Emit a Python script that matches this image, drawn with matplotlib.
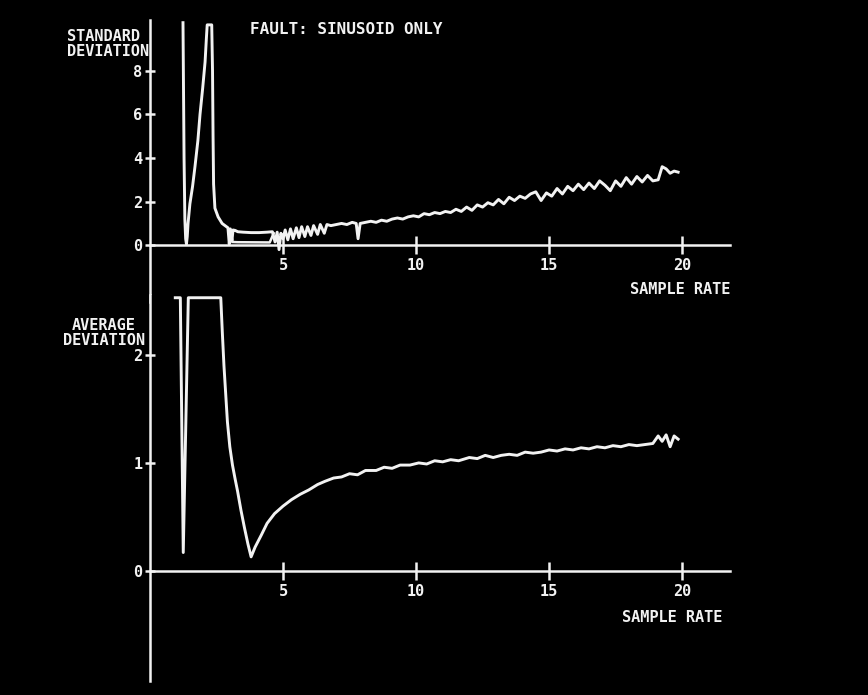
import matplotlib
matplotlib.use("Agg")
import matplotlib.pyplot as plt

# standard deviation trace (upper panel)
std_x = [1.24, 1.28, 1.31, 1.34, 1.37, 1.40, 1.43, 1.50, 1.60, 1.69, 1.80, 1.88, 1.98,
         2.07, 2.12, 2.15, 2.32, 2.35, 2.37, 2.39, 2.44, 2.56, 2.71, 2.93, 2.98, 3.02,
         3.08, 3.12, 3.20, 3.30, 3.50, 3.80, 4.10, 4.40, 4.60, 4.70, 4.78, 4.85, 4.92,
         5.00, 5.08, 5.18, 5.28, 5.38, 5.50, 5.60, 5.70, 5.82, 5.92, 6.05, 6.15, 6.30,
         6.40, 6.55, 6.65, 6.80, 7.00, 7.20, 7.40, 7.60, 7.75, 7.82, 7.90, 8.10, 8.30,
         8.50, 8.70, 8.90, 9.10, 9.30, 9.50, 9.70, 9.90, 10.1, 10.3, 10.5, 10.7, 10.9,
         11.1, 11.3, 11.5, 11.7, 11.9, 12.1, 12.3, 12.5, 12.7, 12.9, 13.1, 13.3, 13.5,
         13.7, 13.9, 14.1, 14.3, 14.5, 14.7, 14.9, 15.1, 15.3, 15.5, 15.7, 15.9, 16.1,
         16.3, 16.5, 16.7, 16.9, 17.1, 17.3, 17.5, 17.7, 17.9, 18.1, 18.3, 18.5, 18.7,
         18.9, 19.1, 19.25, 19.4, 19.55, 19.7, 19.85]
std_y = [10.2, 4.0, 1.2, 0.3, 0.05, 0.4, 1.0, 1.9, 2.7, 3.6, 4.8, 6.0, 7.2,
         8.4, 9.5, 10.1, 10.1, 8.0, 5.0, 2.8, 1.7, 1.3, 1.0, 0.8, 0.05, 0.75,
         0.2, 0.7, 0.68, 0.62, 0.60, 0.58, 0.58, 0.60, 0.62, 0.15, 0.60, -0.2, 0.55,
         0.30, 0.70, 0.25, 0.75, 0.30, 0.80, 0.35, 0.85, 0.40, 0.85, 0.45, 0.90, 0.50,
         0.95, 0.55, 0.95, 0.90, 0.95, 1.00, 0.95, 1.05, 1.00, 0.30, 1.00, 1.05, 1.10,
         1.05, 1.15, 1.10, 1.20, 1.25, 1.20, 1.30, 1.35, 1.30, 1.45, 1.40, 1.50, 1.45,
         1.55, 1.50, 1.65, 1.55, 1.75, 1.60, 1.85, 1.75, 1.95, 1.85, 2.10, 1.90, 2.20,
         2.05, 2.25, 2.15, 2.35, 2.45, 2.05, 2.40, 2.25, 2.60, 2.35, 2.70, 2.50, 2.80,
         2.55, 2.85, 2.60, 2.95, 2.75, 2.50, 2.95, 2.70, 3.10, 2.80, 3.15, 2.90, 3.20,
         2.95, 3.00, 3.60, 3.50, 3.30, 3.40, 3.35]

# lower retrace seen under the flat part of the upper trace
retrace_x = [3.10, 3.30, 4.50, 4.65]
retrace_y = [0.15, 0.14, 0.13, 0.55]

# average deviation trace (lower panel)
avg_x = [0.95, 1.14, 1.25, 1.44, 2.66, 2.72, 2.78, 2.85, 2.91, 3.00, 3.10, 3.20,
         3.29, 3.42, 3.55, 3.68, 3.80, 3.95, 4.18, 4.40, 4.68, 5.00, 5.32, 5.65,
         5.97, 6.30, 6.58, 6.90, 7.20, 7.50, 7.80, 8.10, 8.50, 8.80, 9.10, 9.40,
         9.77, 10.1, 10.4, 10.7, 11.0, 11.3, 11.6, 12.0, 12.3, 12.6, 12.9, 13.2,
         13.5, 13.8, 14.1, 14.4, 14.7, 15.0, 15.3, 15.6, 15.9, 16.2, 16.5, 16.8,
         17.1, 17.4, 17.7, 18.0, 18.3, 18.6, 18.9, 19.1, 19.25, 19.4, 19.55, 19.7,
         19.85]
avg_y = [2.53, 2.53, 0.17, 2.53, 2.53, 2.20, 1.90, 1.62, 1.38, 1.15, 0.98, 0.85,
         0.74, 0.56, 0.40, 0.25, 0.13, 0.22, 0.33, 0.44, 0.53, 0.60, 0.66, 0.71,
         0.75, 0.80, 0.83, 0.86, 0.87, 0.90, 0.89, 0.93, 0.93, 0.96, 0.95, 0.98,
         0.98, 1.00, 0.99, 1.02, 1.01, 1.03, 1.02, 1.05, 1.04, 1.07, 1.05, 1.07,
         1.08, 1.07, 1.10, 1.09, 1.10, 1.12, 1.11, 1.13, 1.12, 1.14, 1.13, 1.15,
         1.14, 1.16, 1.15, 1.17, 1.16, 1.17, 1.18, 1.25, 1.20, 1.26, 1.15, 1.25,
         1.22]

x_ticks = [5, 10, 15, 20]
std_ticks = [0, 2, 4, 6, 8]
avg_ticks = [0, 1, 2]

fg = "#f2f2f2"
font = dict(family="DejaVu Sans Mono", weight="bold", color=fg, size=11)

fig = plt.figure(figsize=(8.68, 6.95), dpi=100, facecolor="black")

ax1 = fig.add_axes([150 / 868, 1 - 302 / 695, 580 / 868, 281.5 / 695])
ax2 = fig.add_axes([150 / 868, 1 - 681 / 695, 580 / 868, 386.5 / 695])

ax1.set_ylim(-2.6, 10.3)
ax1.set_yticks(std_ticks)
ax1.plot(std_x, std_y, color=fg, lw=2.1)
ax1.plot(retrace_x, retrace_y, color=fg, lw=1.8)
ax1.text(21.8, -2.05, "SAMPLE RATE", ha="right", va="center", **font)

ax2.set_ylim(-1.02, 2.56)
ax2.set_yticks(avg_ticks)
ax2.plot(avg_x, avg_y, color=fg, lw=2.1)
ax2.text(21.5, -0.43, "SAMPLE RATE", ha="right", va="center", **font)

for ax in (ax1, ax2):
    ax.set_facecolor("black")
    ax.set_xlim(0, 21.8)
    ax.set_xticks(x_ticks)
    for s in ("top", "right"):
        ax.spines[s].set_visible(False)
    for s in ("left", "bottom"):
        ax.spines[s].set_color(fg)
        ax.spines[s].set_linewidth(1.8)
    ax.spines["bottom"].set_position(("data", 0))
    ax.tick_params(axis="x", direction="inout", length=13, width=1.8, colors=fg, pad=3)
    ax.tick_params(axis="y", direction="inout", length=7, width=1.8, colors=fg, pad=2)
    for lab in ax.get_xticklabels() + ax.get_yticklabels():
        lab.set_fontfamily("DejaVu Sans Mono")
        lab.set_fontweight("bold")
        lab.set_fontsize(11)

fig.text(250 / 868, 1 - 30 / 695, "FAULT: SINUSOID ONLY", ha="left", va="center",
         **dict(font, size=11.5))
fig.text(67 / 868, 1 - 44 / 695, "STANDARD\nDEVIATION", ha="left", va="center",
         linespacing=1.0, **font)
fig.text(104 / 868, 1 - 333 / 695, "AVERAGE\nDEVIATION", ha="center", va="center",
         multialignment="center", linespacing=1.0, **font)

fig.savefig("out.png", dpi=100, facecolor="black")
